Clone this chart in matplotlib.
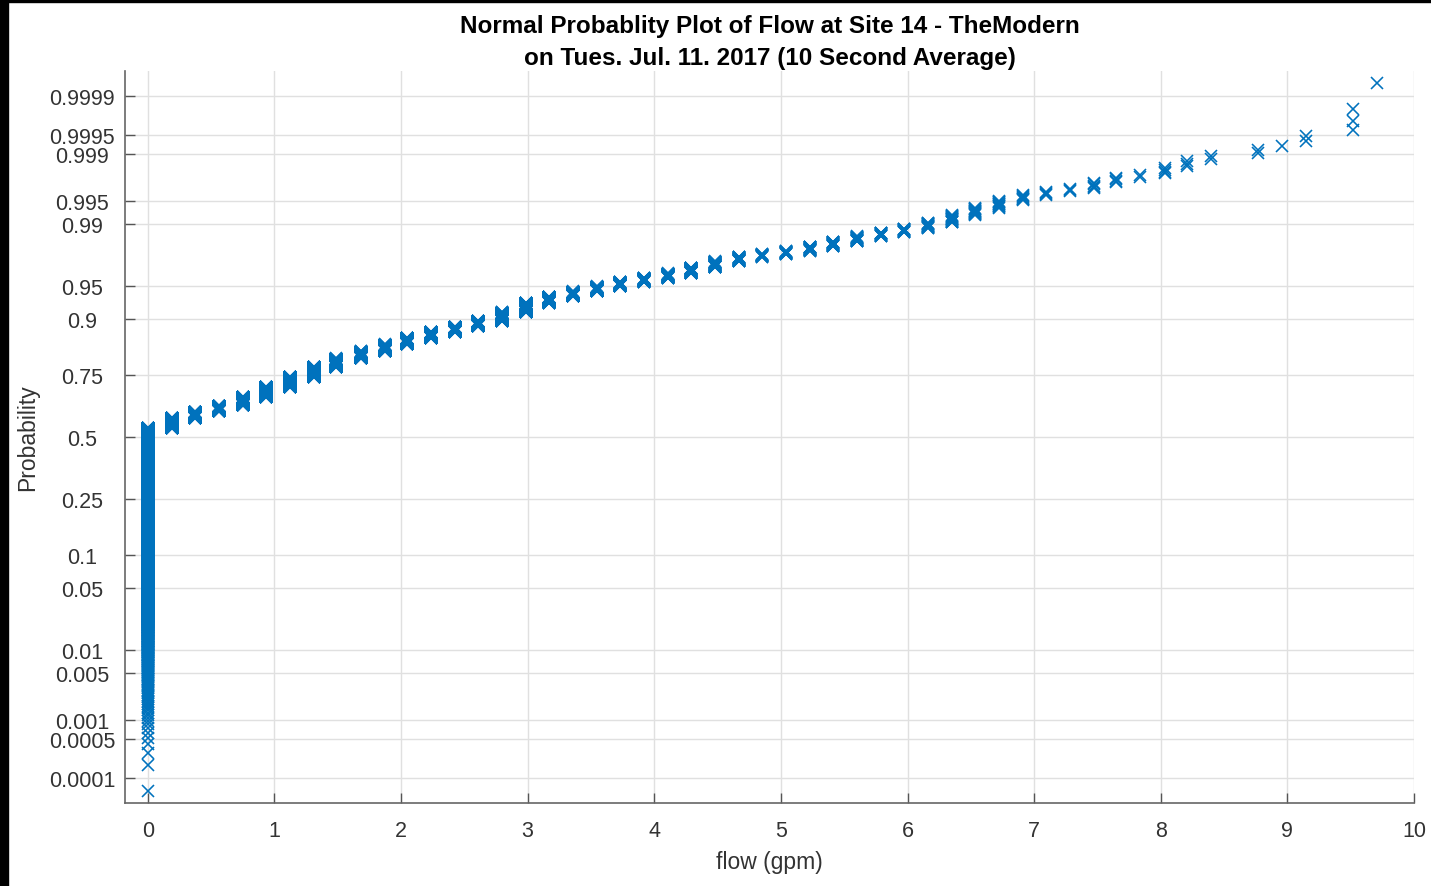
import numpy as np
import matplotlib.pyplot as plt
from matplotlib.patches import Rectangle
from statistics import NormalDist

# flow levels (gpm) that show up as columns of markers
flow_levels = [0.00, 0.19, 0.37, 0.56, 0.75, 0.93, 1.12, 1.31, 1.49, 1.68,
               1.87, 2.05, 2.24, 2.43, 2.61, 2.80, 2.99, 3.17, 3.36, 3.55,
               3.73, 3.92, 4.11, 4.29, 4.48, 4.67, 4.85, 5.04, 5.23, 5.41,
               5.60, 5.79, 5.97, 6.16, 6.35, 6.53, 6.72, 6.91, 7.09, 7.28,
               7.47, 7.65, 7.84, 8.03, 8.21, 8.40, 8.77, 8.96, 9.15, 9.52,
               9.71]

# number of 10 second samples at each level (read from the probability span of each column)
sample_counts = [4655, 375, 236, 215, 297, 333, 314, 293, 229, 177,
                 164, 141, 122, 103, 97, 136, 132, 78, 57, 51,
                 42, 34, 37, 43, 39, 26, 15, 15, 21, 20,
                 19, 13, 12, 15, 17, 13, 11, 7, 4, 3,
                 5, 4, 2, 4, 3, 2, 2, 1, 2, 3,
                 1]

prob_ticks = [0.0001, 0.0005, 0.001, 0.005, 0.01, 0.05, 0.1, 0.25, 0.5,
              0.75, 0.9, 0.95, 0.99, 0.995, 0.999, 0.9995, 0.9999]
prob_labels = ['0.0001', '0.0005', '0.001', '0.005', '0.01', '0.05', '0.1',
               '0.25', '0.5', '0.75', '0.9', '0.95', '0.99', '0.995',
               '0.999', '0.9995', '0.9999']
x_ticks = [0, 1, 2, 3, 4, 5, 6, 7, 8, 9, 10]

plt.rcParams['font.family'] = ['Liberation Sans', 'DejaVu Sans']

nd = NormalDist()

# sorted sample and normal plotting positions
flow = np.repeat(flow_levels, sample_counts)
n = len(flow)
p = (np.arange(1, n + 1) - 0.5) / n
z = np.array([nd.inv_cdf(pi) for pi in p])

W, H = 1431, 887
fig = plt.figure(figsize=(W / 100, H / 100), dpi=100)
ax = fig.add_axes([125 / W, 1 - 804 / H, (1414 - 125) / W, (804 - 72) / H])

ax.plot(flow, z, 'x', color='#0072BD', markersize=8.5, markeredgewidth=1.15)

ax.set_xlim(-0.18, 10)
ax.set_ylim(-3.99, 3.99)

ax.set_xticks(x_ticks)
ax.set_yticks([nd.inv_cdf(t) for t in prob_ticks])
ax.set_yticklabels(prob_labels)

ax.grid(True, color='#e0e0e0', linewidth=1.0)
ax.set_axisbelow(True)

for side in ['top', 'right']:
    ax.spines[side].set_visible(False)
for side in ['left', 'bottom']:
    ax.spines[side].set_color('#666666')
    ax.spines[side].set_linewidth(1.2)

ax.tick_params(axis='both', direction='in', length=7, width=1.0,
               color='#555555', labelcolor='#333333', labelsize=15.5)
ax.tick_params(axis='x', pad=12)
ax.tick_params(axis='y', pad=31)
for lab in ax.get_yticklabels():
    lab.set_horizontalalignment('center')

ax.set_xlabel('flow (gpm)', fontsize=16.5, color='#333333', labelpad=7)
ax.set_ylabel('Probability', fontsize=16.5, color='#333333', labelpad=7)
ax.set_title('Normal Probablity Plot of Flow at Site 14 - TheModern\n'
             'on Tues. Jul. 11. 2017 (10 Second Average)',
             fontsize=17.5, fontweight='bold', linespacing=1.5, pad=5)

# black strips along the top and left edge of the screenshot
fig.add_artist(Rectangle((0, 0), 8 / W, 1, transform=fig.transFigure,
                         color='black', zorder=10))
fig.add_artist(Rectangle((0, 1 - 3 / H), 1, 3 / H, transform=fig.transFigure,
                         color='black', zorder=10))

fig.savefig('out.png', dpi=100)
